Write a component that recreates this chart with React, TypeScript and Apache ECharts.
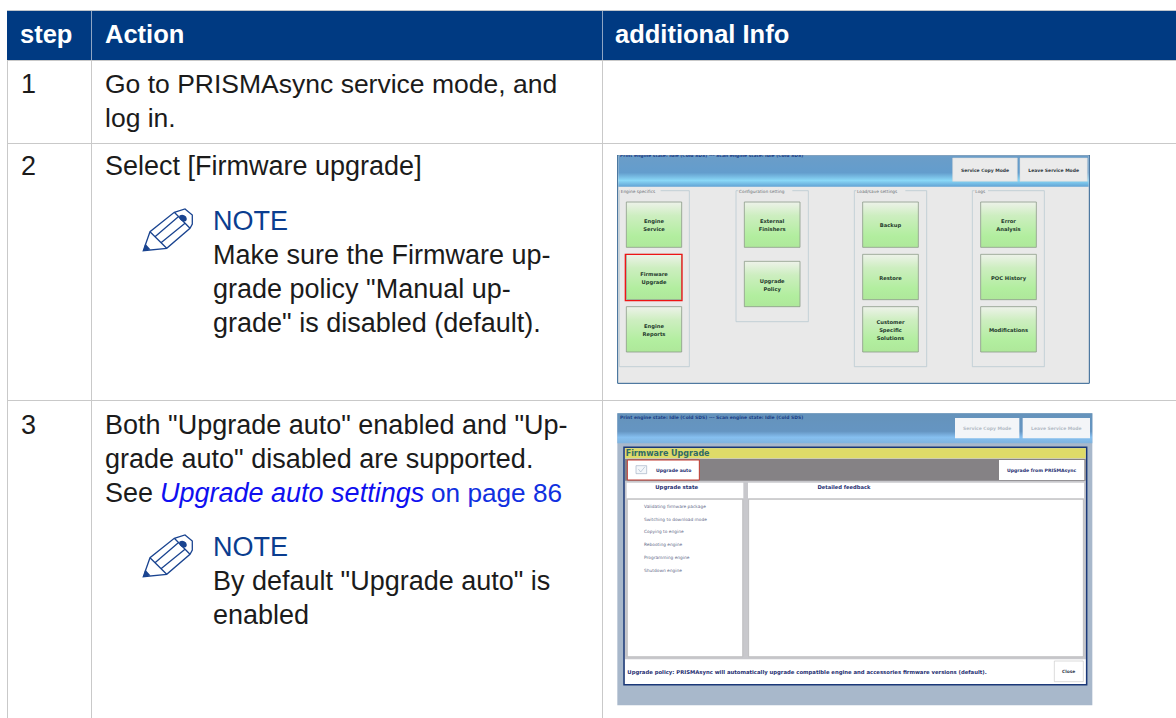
import React, { useEffect, useRef } from "react";
import * as echarts from "echarts";

const headers = ["step", "Action", "additional Info"];
const steps = ["1", "2", "3"];
const step1Lines = ["Go to PRISMAsync service mode, and", "log in."];
const step2Lines = ["Select [Firmware upgrade]"];
const note2Lines = ["Make sure the Firmware up-", "grade policy \"Manual up-", "grade\" is disabled (default)."];
const step3Lines = ["Both \"Upgrade auto\" enabled and \"Up-", "grade auto\" disabled are supported."];
const seeWord = "See";
const seeLink = "Upgrade auto settings";
const seePage = "on page 86";
const note3Lines = ["By default \"Upgrade auto\" is", "enabled"];
const noteTitle = "NOTE";
const shot1Status = "Print engine state: Idle (Cold SDS) --- Scan engine state: Idle (Cold SDS)";
const shot1Top = ["Service Copy Mode", "Leave Service Mode"];
const shot1Groups = ["Engine specifics", "Configuration setting", "Load/save settings", "Logs"];
const shot1Col1 = ["Engine\nService", "Firmware\nUpgrade", "Engine\nReports"];
const shot1Col2 = ["External\nFinishers", "Upgrade\nPolicy"];
const shot1Col3 = ["Backup", "Restore", "Customer\nSpecific\nSolutions"];
const shot1Col4 = ["Error\nAnalysis", "POC History", "Modifications"];
const shot2Title = "Firmware Upgrade";
const shot2Auto = "Upgrade auto";
const shot2From = "Upgrade from PRISMAsync";
const shot2Heads = ["Upgrade state", "Detailed feedback"];
const shot2States = ["Validating firmware package", "Switching to download mode", "Copying to engine", "Rebooting engine", "Programming engine", "Shutdown engine"];
const shot2Policy = "Upgrade policy: PRISMAsync will automatically upgrade compatible engine and accessories firmware versions (default).";
const shot2Close = "Close";

const PENCIL =
  "M143.3 250.7 L150 231.7 L174.3 212.3 L185 209 L192.3 215 L192.3 224 L190 228.3 L166.7 248.3 Z " +
  "M150 231.7 L166.7 248.3 M155 236.7 L178.3 216.7 M161 242.7 L185 223.3 " +
  "M174.3 212.3 L190 228.3";
const PENCIL_SOLID =
  "M143.3 250.7 L145.2 243.5 L150.5 249.4 Z " +
  "M179.5 215.5 Q183 213.5 186 216.5 Q188 220 185 221.5 Q182 222 180 219.5 Q178.5 217 179.5 215.5 Z";
echarts.graphic.registerShape("pencil", echarts.graphic.extendPath(PENCIL as any, {}));
echarts.graphic.registerShape("pencilSolid", echarts.graphic.extendPath(PENCIL_SOLID as any, {}));

const FONT = "Liberation Sans";
const INK = "#1b1b1b";
const BLUE = "#0a3d8f";
const LINE = "#c9c9c9";
const UI = "DejaVu Sans";
const BODY = 27;

const lg = (stops: [number, string][]) =>
  new echarts.graphic.LinearGradient(0, 0, 0, 1, stops.map(([offset, color]) => ({ offset, color })));

function rect(x: number, y: number, w: number, h: number, fill: any, stroke?: string, lineWidth = 1, z = 1): any {
  return { type: "rect", z, shape: { x, y, width: w, height: h }, style: { fill, stroke: stroke || "none", lineWidth } };
}
function label(text: string, x: number, y: number, size: number, fill: string, opts: any = {}): any {
  return {
    type: "text",
    z: opts.z || 5,
    x,
    y,
    style: {
      text,
      fontFamily: opts.font || FONT,
      fontSize: size,
      fontWeight: opts.weight || "normal",
      fontStyle: opts.italic ? "italic" : "normal",
      fill,
      align: opts.align || "left",
      verticalAlign: "middle",
      lineHeight: opts.lineHeight,
    },
  };
}
function vline(x: number, y1: number, y2: number, stroke = LINE): any {
  return { type: "line", z: 2, shape: { x1: x, y1, x2: x, y2 }, style: { stroke, lineWidth: 1 } };
}
function hline(y: number, x1: number, x2: number, stroke = LINE): any {
  return { type: "line", z: 2, shape: { x1, y1: y, x2, y2: y }, style: { stroke, lineWidth: 1 } };
}

function buildTable(): any[] {
  const e: any[] = [];
  e.push(rect(7, 11, 1169, 49, "#003a82", undefined, 0, 1));
  e.push(hline(10.5, 7, 1176, "#bfc5cc"));
  [7.5, 91.5, 602.5].forEach((x) => e.push(vline(x, 60, 718)));
  [91.5, 602.5].forEach((x) => e.push(vline(x, 11, 60, "#8ea5c4")));
  [60.5, 143.5, 400.5].forEach((y) => e.push(hline(y, 7, 1176)));
  const hx = [20, 105, 615];
  headers.forEach((h, i) => e.push(label(h, hx[i], 34, 25.5, "#ffffff", { weight: 700 })));
  const sy = [84, 166, 425];
  steps.forEach((s, i) => e.push(label(s, 21, sy[i], BODY, INK)));
  step1Lines.forEach((t, i) => e.push(label(t, 105, 84 + i * 34, 26.5, INK)));
  step2Lines.forEach((t, i) => e.push(label(t, 105, 166 + i * 34, BODY, INK)));
  e.push(label(noteTitle, 213, 221, 27, BLUE));
  note2Lines.forEach((t, i) => e.push(label(t, 213, 255 + i * 34, BODY, INK)));
  step3Lines.forEach((t, i) => e.push(label(t, 105, 425 + i * 34, BODY, INK)));
  e.push(label(seeWord, 105, 493, BODY, INK));
  e.push(label(seeLink, 160, 493, BODY, "#0f10f0", { italic: true }));
  e.push(label(seePage, 431, 493, 26.2, "#1030e0"));
  e.push(label(noteTitle, 213, 547, 27, BLUE));
  note3Lines.forEach((t, i) => e.push(label(t, 213, 581 + i * 34, BODY, INK)));
  [0, 326].forEach((dy) => {
    e.push({ type: "pencil", z: 4, x: 0, y: dy, style: { fill: "none", stroke: "#1a4490", lineWidth: 1.3 } });
    e.push({ type: "pencilSolid", z: 4, x: 0, y: dy, style: { fill: "#1a4490", stroke: "none" } });
  });
  return e;
}

function buildShot1(): any[] {
  const ox = 610, oy = 150;
  const X = (v: number) => ox + v / 3;
  const Y = (v: number) => oy + v / 3;
  const box = (x1: number, y1: number, x2: number, y2: number, fill: any, stroke?: string, lw = 1, z = 3) =>
    rect(X(x1), Y(y1), (x2 - x1) / 3, (y2 - y1) / 3, fill, stroke, lw, z);
  const e: any[] = [];
  e.push(box(23, 15, 1438, 700, "#e9e9e9", "#2d6090", 1, 2));
  e.push(
    box(25, 17, 1436, 110, lg([[0, "#6b9dc8"], [0.55, "#639dcd"], [0.8, "#8ad8f7"], [1, "#62a3d4"]]), undefined, 0, 3)
  );
  e.push(label(shot1Status, X(30), 155.5, 4.5, "#1c3f86", { font: UI, weight: 700, z: 4 }));
  e.push(rect(612, 150, 485, 5, "#ffffff", undefined, 0, 4.5));
  [[1028, 1222], [1230, 1432]].forEach(([a, b], i) => {
    e.push(box(a, 24, b, 94, "#ebebeb", "#d8d8d8", 0.5, 4));
    e.push(label(shot1Top[i], X((a + b) / 2), Y(60), 4.5, "#333c44", { font: UI, weight: 700, align: "center" }));
  });
  const groupBoxes = [[28, 238, 650], [378, 595, 515], [733, 950, 650], [1087, 1303, 650]];
  const groupLabelX = [32, 387, 741, 1096];
  const groupLabelW = [120, 160, 145, 38];
  groupBoxes.forEach(([a, b, bottom], i) => {
    e.push(box(a, 122, b, bottom, "none", "#b9c9d2", 0.8, 3));
    e.push(box(groupLabelX[i] - 2, 116, groupLabelX[i] + groupLabelW[i], 130, "#e9e9e9", undefined, 0, 3.5));
    e.push(label(shot1Groups[i], X(groupLabelX[i]), Y(123), 4.3, "#6b6f74", { font: UI }));
  });
  const greenFill = () => lg([[0, "#eef2ea"], [0.3, "#cdeec0"], [0.75, "#b2ee9f"], [1, "#aee89a"]]);
  const cols: [string[], number, number, number[]][] = [
    [shot1Col1, 49, 215, [156, 313, 470]],
    [shot1Col2, 403, 570, [156, 334]],
    [shot1Col3, 758, 925, [156, 313, 470]],
    [shot1Col4, 1112, 1279, [156, 313, 470]],
  ];
  cols.forEach(([names, a, b, tops]) =>
    names.forEach((n, i) => {
      const t = tops[i];
      e.push(box(a, t, b, t + 136, greenFill(), "#8b9a88", 0.8, 4));
      e.push(
        label(n, X((a + b) / 2), Y(t + 70), 5.2, "#1f3a2c", {
          font: UI,
          weight: 700,
          align: "center",
          lineHeight: 7.7,
        })
      );
    })
  );
  e.push(box(46, 313, 216, 452, "none", "#ee1414", 1.3, 4.5));
  return e;
}

function buildShot2(): any[] {
  const ox = 610, oy = 410;
  const X = (v: number) => ox + v / 3;
  const Y = (v: number) => oy + v / 3;
  const box = (x1: number, y1: number, x2: number, y2: number, fill: any, stroke?: string, lw = 1, z = 3) =>
    rect(X(x1), Y(y1), (x2 - x1) / 3, (y2 - y1) / 3, fill, stroke, lw, z);
  const TXT = "#1f3072";
  const e: any[] = [];
  e.push(box(22, 10, 1447, 886, "#a8b8cb", undefined, 0, 2));
  e.push(box(22, 10, 1447, 100, lg([[0, "#6593bb"], [0.6, "#6595c2"], [0.8, "#86bff0"], [1, "#7fb4de"]]), undefined, 0, 3));
  e.push(label(shot1Status, X(30), Y(21), 4.5, "#1c3f86", { font: UI, weight: 700 }));
  [[1035, 1228], [1238, 1440]].forEach(([a, b], i) => {
    e.push(box(a, 24, b, 85, "#f3f5f8", undefined, 0, 4));
    e.push(label(shot1Top[i], X((a + b) / 2), Y(55), 4.5, "#b4bcc6", { font: UI, weight: 700, align: "center" }));
  });
  e.push(box(42, 112, 1430, 824, "#c8c8cc", "#1a3878", 1.5, 3));
  e.push(box(45, 115, 1427, 145, "#dedb68", undefined, 0, 4));
  e.push(label(shot2Title, X(47), Y(130), 8, "#2e6a66", { font: UI, weight: 700 }));
  e.push(box(45, 147, 1427, 212, "#858285", undefined, 0, 4));
  e.push(box(52, 150, 268, 210, "#ffffff", "#c23a30", 1, 4.5));
  e.push(box(78, 167, 110, 191, "#f4f7fa", "#9aa9c0", 0.6, 4.6));
  e.push({
    type: "polyline",
    z: 4.7,
    shape: { points: [[X(85), Y(177)], [X(92), Y(186)], [X(105), Y(170)]] },
    style: { stroke: "#9fb0c6", fill: "none", lineWidth: 0.6 },
  });
  e.push(label(shot2Auto, X(138), Y(180), 4.6, TXT, { font: UI, weight: 700 }));
  e.push(box(1167, 150, 1423, 210, "#ffffff", undefined, 0, 4.5));
  e.push(label(shot2From, X(1295), Y(180), 4.6, TXT, { font: UI, weight: 700, align: "center" }));
  e.push(box(50, 218, 400, 265, "#ffffff", undefined, 0, 4));
  e.push(box(414, 218, 1422, 265, "#ffffff", undefined, 0, 4));
  e.push(label(shot2Heads[0], X(200), Y(232), 5.3, TXT, { font: UI, weight: 700, align: "center" }));
  e.push(label(shot2Heads[1], X(702), Y(232), 5.2, TXT, { font: UI, weight: 700, align: "center" }));
  e.push(box(52, 268, 398, 740, "#ffffff", "#a9a9ad", 0.6, 4));
  e.push(box(416, 268, 1420, 740, "#ffffff", "#a9a9ad", 0.6, 4));
  const stateY = [289, 327, 365, 404, 442, 480];
  shot2States.forEach((s, i) => e.push(label(s, X(102), Y(stateY[i]), 4.35, "#5f6a88", { font: UI })));
  e.push(box(45, 748, 1427, 822, "#ffffff", undefined, 0, 4));
  e.push(label(shot2Policy, X(52), Y(785), 5.3, TXT, { font: UI, weight: 700 }));
  e.push(box(1333, 753, 1420, 815, "#ffffff", "#c4c4c4", 0.6, 4.5));
  e.push(label(shot2Close, X(1376), Y(785), 4.4, "#30374e", { font: UI, weight: 700, align: "center" }));
  return e;
}

export default function App() {
  const ref = useRef<HTMLDivElement>(null);
  useEffect(() => {
    const chart = echarts.init(ref.current!, undefined, { renderer: "svg" });
    chart.setOption({
      animation: false,
      backgroundColor: "#ffffff",
      graphic: { elements: [...buildTable(), ...buildShot1(), ...buildShot2()] },
    });
    return () => chart.dispose();
  }, []);
  return <div ref={ref} style={{ position: "absolute", left: 0, top: 0, width: 1176, height: 718 }} />;
}
